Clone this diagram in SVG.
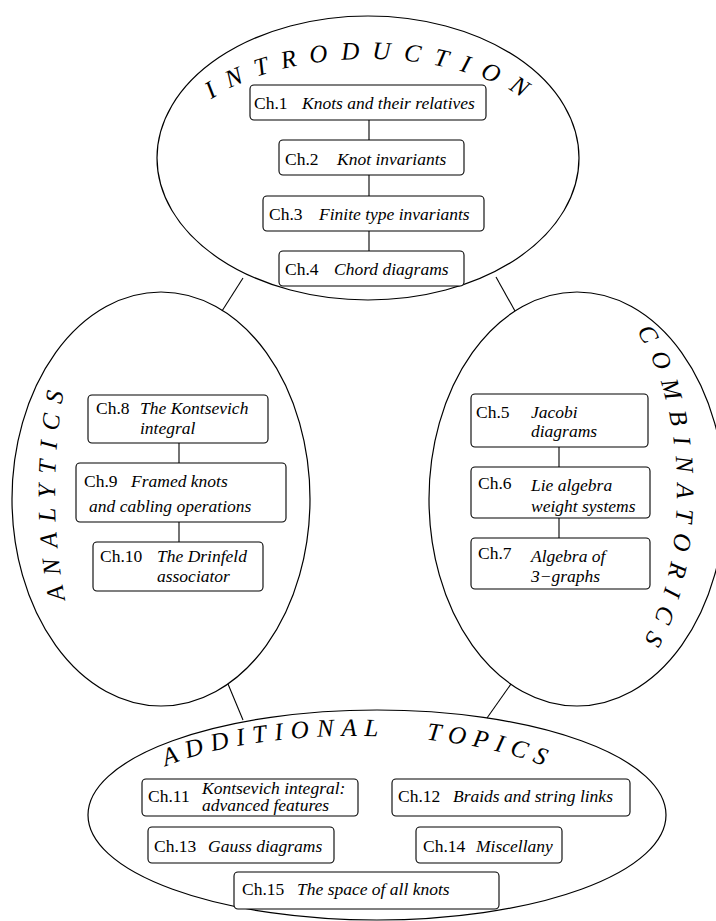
<svg xmlns="http://www.w3.org/2000/svg" width="716" height="921" viewBox="0 0 716 921">
<style>
.el{fill:none;stroke:#000;stroke-width:1.2}
.box{fill:#fff;stroke:#000;stroke-width:1.1}
.ln{stroke:#000;stroke-width:1.1}
.t{font-family:"Liberation Serif","Times New Roman",serif;font-size:17.5px;fill:#000}
.i{font-style:italic}
.ttl{font-family:"Liberation Serif","Times New Roman",serif;font-style:italic;font-size:25px;fill:#000}
</style>
<defs>
<path id="pIntro" d="M 174 158 A 194 99 0 0 1 562 158"/>
<path id="pAna" d="M 161 742 A 106 250 0 0 1 161 242"/>
<path id="pComb" d="M 577 292 A 100 200 0 0 1 577 692"/>
<path id="pAdd" d="M 115 815 A 240 79 0 0 1 595 815"/>
</defs>
<rect width="716" height="921" fill="#fff"/>

<g id="cluster-introduction">
<ellipse class="el" cx="368" cy="158" rx="211" ry="142"/>
<text class="ttl" letter-spacing="13"><textPath href="#pIntro" startOffset="72">INTRODUCTION</textPath></text>
</g>
<g id="cluster-analytics">
<ellipse class="el" cx="161" cy="499" rx="149" ry="207"/>
<text class="ttl" letter-spacing="10.3"><textPath href="#pAna" startOffset="183">ANALYTICS</textPath></text>
</g>
<g id="cluster-combinatorics">
<ellipse class="el" cx="577" cy="499" rx="148" ry="207"/>
<text class="ttl" letter-spacing="10.6"><textPath href="#pComb" startOffset="74">COMBINATORICS</textPath></text>
</g>
<g id="cluster-additional">
<ellipse class="el" cx="377" cy="815" rx="289" ry="105"/>
<text class="ttl" letter-spacing="7.8"><textPath href="#pAdd" startOffset="74">ADDITIONAL</textPath></text>
<text class="ttl" letter-spacing="7.2"><textPath href="#pAdd" startOffset="338">TOPICS</textPath></text>
</g>

<g id="connectors">
<line class="ln" x1="243" y1="278" x2="222" y2="311"/>
<line class="ln" x1="496" y1="277" x2="515" y2="311"/>
<line class="ln" x1="228" y1="684" x2="243" y2="720"/>
<line class="ln" x1="511" y1="684" x2="487" y2="718"/>
<line class="ln" x1="369" y1="120" x2="369" y2="140"/>
<line class="ln" x1="369" y1="175" x2="369" y2="196"/>
<line class="ln" x1="369" y1="231" x2="369" y2="251"/>
<line class="ln" x1="179" y1="443" x2="179" y2="463"/>
<line class="ln" x1="179" y1="522" x2="179" y2="542"/>
<line class="ln" x1="559" y1="447" x2="559" y2="467"/>
<line class="ln" x1="559" y1="518" x2="559" y2="538"/>
</g>

<g id="ch1"><rect class="box" x="250" y="85" width="236" height="35" rx="4"/>
<text class="t" x="254" y="109">Ch.1</text><text class="t i" x="302" y="109">Knots and their relatives</text></g>
<g id="ch2"><rect class="box" x="279" y="140" width="185" height="35" rx="4"/>
<text class="t" x="285" y="165">Ch.2</text><text class="t i" x="337" y="165">Knot invariants</text></g>
<g id="ch3"><rect class="box" x="263" y="196" width="221" height="35" rx="4"/>
<text class="t" x="269" y="220">Ch.3</text><text class="t i" x="319" y="220">Finite type invariants</text></g>
<g id="ch4"><rect class="box" x="279" y="251" width="185" height="35" rx="4"/>
<text class="t" x="285" y="275">Ch.4</text><text class="t i" x="334" y="275">Chord diagrams</text></g>

<g id="ch8"><rect class="box" x="88" y="395" width="180" height="48" rx="4"/>
<text class="t" x="96" y="414">Ch.8</text><text class="t i" x="140" y="414">The Kontsevich</text><text class="t i" x="140" y="434">integral</text></g>
<g id="ch9"><rect class="box" x="76" y="463" width="210" height="59" rx="4"/>
<text class="t" x="84" y="487">Ch.9</text><text class="t i" x="131" y="487">Framed knots</text><text class="t i" x="89" y="512">and cabling operations</text></g>
<g id="ch10"><rect class="box" x="93" y="542" width="170" height="49" rx="4"/>
<text class="t" x="100" y="562">Ch.10</text><text class="t i" x="157" y="562">The Drinfeld</text><text class="t i" x="157" y="582">associator</text></g>

<g id="ch5"><rect class="box" x="471" y="394" width="177" height="53" rx="4"/>
<text class="t" x="476" y="418">Ch.5</text><text class="t i" x="531" y="418">Jacobi</text><text class="t i" x="531" y="437">diagrams</text></g>
<g id="ch6"><rect class="box" x="471" y="467" width="179" height="51" rx="4"/>
<text class="t" x="478" y="489">Ch.6</text><text class="t i" x="531" y="491">Lie algebra</text><text class="t i" x="531" y="512">weight systems</text></g>
<g id="ch7"><rect class="box" x="471" y="538" width="179" height="51" rx="4"/>
<text class="t" x="478" y="559">Ch.7</text><text class="t i" x="531" y="562">Algebra of</text><text class="t i" x="531" y="582">3−graphs</text></g>

<g id="ch11"><rect class="box" x="142" y="779" width="216" height="37" rx="4"/>
<text class="t" x="148" y="802">Ch.11</text><text class="t i" x="202" y="794">Kontsevich integral:</text><text class="t i" x="202" y="811">advanced features</text></g>
<g id="ch12"><rect class="box" x="392" y="779" width="238" height="37" rx="4"/>
<text class="t" x="398" y="802">Ch.12</text><text class="t i" x="453" y="802">Braids and string links</text></g>
<g id="ch13"><rect class="box" x="148" y="827" width="186" height="36" rx="4"/>
<text class="t" x="154" y="852">Ch.13</text><text class="t i" x="208" y="852">Gauss diagrams</text></g>
<g id="ch14"><rect class="box" x="416" y="827" width="146" height="36" rx="4"/>
<text class="t" x="423" y="852">Ch.14</text><text class="t i" x="476" y="852">Miscellany</text></g>
<g id="ch15"><rect class="box" x="234" y="872" width="265" height="37" rx="4"/>
<text class="t" x="242" y="895">Ch.15</text><text class="t i" x="297" y="895">The space of all knots</text></g>
</svg>
